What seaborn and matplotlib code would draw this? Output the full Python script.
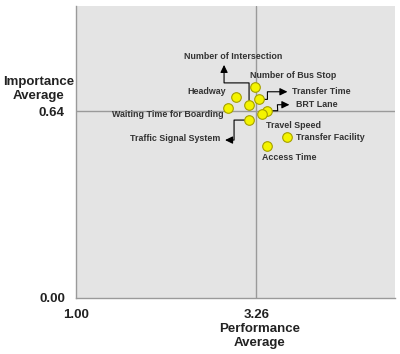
import numpy as np
import pandas as pd
import matplotlib
matplotlib.use("Agg")
import matplotlib.pyplot as plt
import seaborn as sns

#%% data
items = ["Number of Bus Stop", "Headway", "Transfer Time", "Number of Intersection",
         "Waiting Time for Boarding", "BRT Lane", "Travel Speed",
         "Traffic Signal System", "Transfer Facility", "Access Time"]
performance = [3.25, 3.00, 3.30, 3.17, 2.91, 3.40, 3.33, 3.17, 3.65, 3.40]
importance = [0.721, 0.689, 0.680, 0.661, 0.651, 0.641, 0.631, 0.609, 0.550, 0.521]

perf_mean = 3.26
imp_mean = 0.64
x_ticks = [1.00, 3.26]
y_ticks = [0.00, 0.64]

df = pd.DataFrame({"item": items, "perf": performance, "imp": importance})

#%% label placement (offset in px from the point, y up), ha
PX = 0.72  # px -> points at dpi 100
label_pos = {
    "Number of Intersection": (-16, 48, "center"),
    "Number of Bus Stop": (38, 11.6, "center"),
    "Headway": (-9.3, 5, "right"),
    "Transfer Time": (32.7, 7.6, "left"),
    "BRT Lane": (29, 6, "left"),
    "Waiting Time for Boarding": (-5, -6.6, "right"),
    "Travel Speed": (4.3, -12, "left"),
    "Traffic Signal System": (-29, -18, "right"),
    "Transfer Facility": (8.4, 0, "left"),
    "Access Time": (-5, -11.3, "left"),
}
# elbow arrows: arrow head offset (px), angleA, armA, angleB, armB (arms in px)
arrows = {
    "Number of Intersection": (-25, 40, -90, 18, 90, 22),
    "Transfer Time": (28, 7.6, 180, 20, 0, 8),
    "BRT Lane": (22, 6, 180, 12, 0, 10.3),
    "Traffic Signal System": (-24, -20, 0, 9, 180, 15),
}

#%% plot
sns.set_style("white")
plt.rcParams['font.family'] = ['Liberation Sans', 'DejaVu Sans']

fig = plt.figure(figsize=(4.0, 3.54), dpi=100)
ax = fig.add_axes([0.19, 0.159, 0.7975, 0.824])
ax.set_facecolor("#e4e4e4")

ax.axvline(perf_mean, color="#9a9a9a", lw=1, zorder=1)
ax.axhline(imp_mean, color="#9a9a9a", lw=1, zorder=1)

sns.scatterplot(data=df, x="perf", y="imp", ax=ax, s=48, color="#f4f400",
                edgecolor="#a59f00", linewidth=0.8, zorder=3, legend=False)

for _, r in df.iterrows():
    dx, dy, ha = label_pos[r["item"]]
    ax.annotate(r["item"], (r["perf"], r["imp"]), xytext=(dx * PX, dy * PX),
                textcoords="offset points", ha=ha, va="center",
                fontsize=6.4, fontweight="bold", color="#333333", zorder=4)
    if r["item"] in arrows:
        hx, hy, aA, armA, aB, armB = arrows[r["item"]]
        ax.annotate("", (r["perf"], r["imp"]), xytext=(hx * PX, hy * PX),
                    textcoords="offset points",
                    arrowprops=dict(arrowstyle="<|-,head_length=0.45,head_width=0.22",
                                    color="black", lw=0.8, shrinkA=0, shrinkB=3.2,
                                    connectionstyle=f"arc,angleA={aA},armA={armA},"
                                                    f"angleB={aB},armB={armB},rad=0"),
                    zorder=2)

ax.set_xlim(1, 5)
ax.set_ylim(0, 1)
ax.set_xticks(x_ticks)
ax.set_xticklabels([f"{v:.2f}" for v in x_ticks])
ax.set_yticks(y_ticks)
ax.set_yticklabels([f"{v:.2f}" for v in y_ticks])
ax.tick_params(length=0, labelsize=9.5, pad=8, colors="#222222")
for lab in ax.get_xticklabels() + ax.get_yticklabels():
    lab.set_fontweight("bold")

for s in ["top", "right"]:
    ax.spines[s].set_visible(False)
for s in ["left", "bottom"]:
    ax.spines[s].set_color("#9a9a9a")
    ax.spines[s].set_linewidth(1)

ax.set_xlabel("")
ax.set_ylabel("")
fig.text(260 / 400, 1 - 336 / 354, "Performance\nAverage", ha="center", va="center",
         fontsize=9.5, fontweight="bold", color="#222222", linespacing=1.15)
fig.text(39 / 400, 1 - 89 / 354, "Importance\nAverage", ha="center", va="center",
         fontsize=9.5, fontweight="bold", color="#222222", linespacing=1.15)

fig.savefig("out.png", dpi=100)
